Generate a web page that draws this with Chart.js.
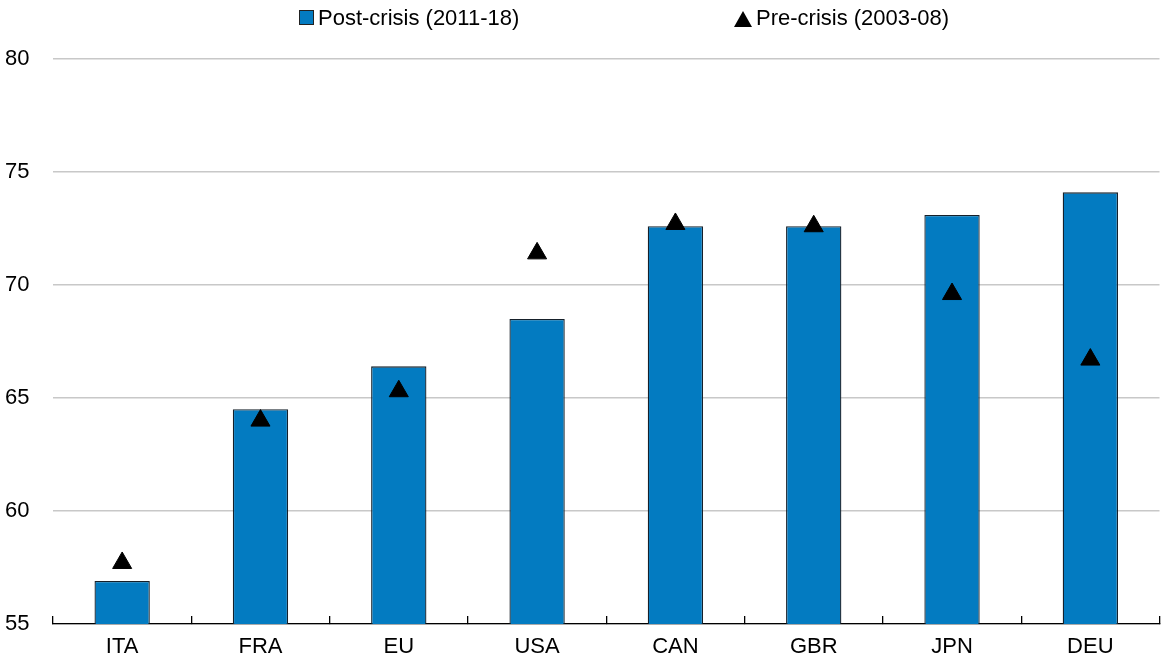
<!DOCTYPE html>
<html>
<head>
<meta charset="utf-8">
<script src="https://cdn.jsdelivr.net/npm/chart.js@4/dist/chart.umd.min.js"></script>
<style>
  body { margin: 0; background: #fff; font-family: 'Liberation Sans', Arial, sans-serif; }
  #wrap { position: relative; width: 1164px; height: 662px; }
  .legend-item { position: absolute; top: 5px; font-size: 22px; line-height: 26px; color: #000; white-space: nowrap; }
  .swatch { position: absolute; left: 299px; top: 10px; width: 13px; height: 13px; background: #037bc1; border: 1px solid #222; }
  .tri { position: absolute; left: 733px; top: 10px; }
</style>
</head>
<body>
<div id="wrap">
  <canvas id="chart" width="1164" height="662"></canvas>
  <div class="swatch"></div>
  <div class="legend-item" style="left: 318px;">Post-crisis (2011-18)</div>
  <svg class="tri" width="20" height="18"><polygon points="10,1 19,17 1,17" fill="#000"/></svg>
  <div class="legend-item" style="left: 756px;">Pre-crisis (2003-08)</div>
</div>
<script>
// Post-crisis vs pre-crisis levels by country

const countries = ['ITA', 'FRA', 'EU', 'USA', 'CAN', 'GBR', 'JPN', 'DEU'];
const postCrisis = [56.9, 64.5, 66.4, 68.5, 72.6, 72.6, 73.1, 74.1];
const preCrisis = [57.7, 64.0, 65.3, 71.4, 72.7, 72.6, 69.6, 66.7];
const yTicks = [55, 60, 65, 70, 75, 80];

Chart.defaults.font.family = "'Liberation Sans', Arial, sans-serif";
Chart.defaults.font.size = 22;
Chart.defaults.color = '#000';

const chartCanvas = document.getElementById('chart');
const chart = new Chart(chartCanvas, {
  type: 'bar',
  data: {
    labels: countries,
    datasets: [{
      type: 'line',
      label: 'Pre-crisis (2003-08)',
      data: preCrisis,
      showLine: false,
      pointStyle: 'triangle',
      pointRadius: 11,
      pointBackgroundColor: '#000',
      pointBorderColor: '#000',
      pointBorderWidth: 1,
      order: 0
    }, {
      label: 'Post-crisis (2011-18)',
      data: postCrisis,
      backgroundColor: '#037bc1',
      borderColor: '#16202a',
      borderWidth: 1.3,
      categoryPercentage: 1,
      barPercentage: 0.4,
      order: 1
    }]
  },
  options: {
    responsive: false,
    animation: false,
    layout: {
      autoPadding: false,
      padding: { top: 59, left: 5, right: 4.5, bottom: 1.6 }
    },
    plugins: {
      legend: { display: false },
      tooltip: { enabled: false }
    },
    scales: {
      x: {
        afterFit: function(axis) {
          axis.height = 36.4;
          axis.paddingLeft = 0;
          axis.paddingRight = 0;
        },
        grid: {
          offset: true,
          drawOnChartArea: false,
          drawTicks: true,
          tickLength: -8,
          color: '#000',
          lineWidth: 1.3
        },
        border: { display: true, color: '#000', width: 1.3 },
        ticks: { padding: 18 }
      },
      y: {
        min: 55,
        max: 80,
        afterBuildTicks: function(axis) {
          axis.ticks = yTicks.map(function(v) { return { value: v }; });
        },
        afterFit: function(axis) { axis.width = 48; },
        grid: {
          drawTicks: false,
          color: '#c8c8c8',
          lineWidth: 1.5
        },
        border: { display: false },
        ticks: { padding: 23.5 }
      }
    }
  }
});
</script>
</body>
</html>
